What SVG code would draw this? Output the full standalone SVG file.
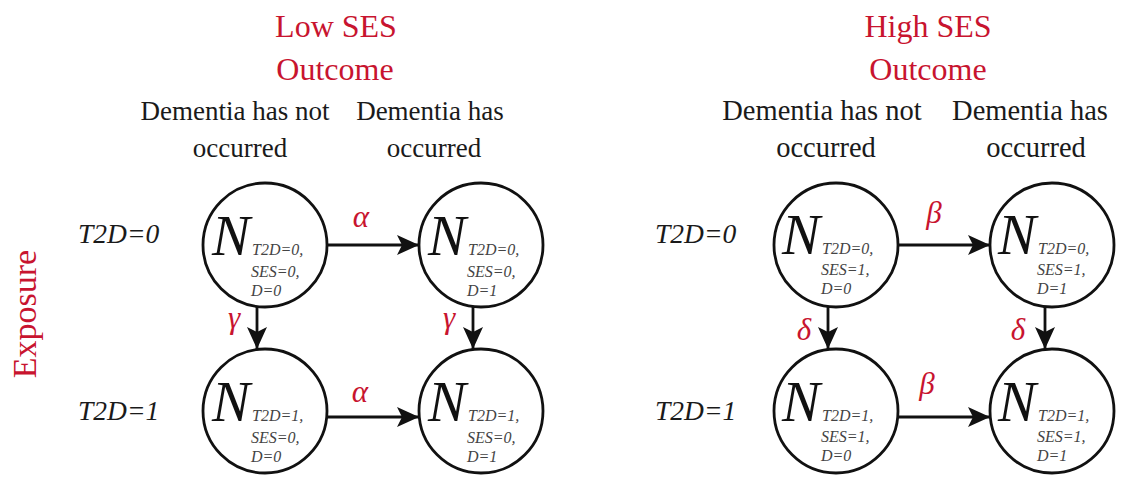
<svg xmlns="http://www.w3.org/2000/svg" width="1145" height="477" viewBox="0 0 1145 477">
<defs>
<style>
text{font-family:"Liberation Serif","Times New Roman",serif;}
.red{fill:#c8142f;}
.title{font-size:32px;text-anchor:middle;}
.head{font-size:27px;text-anchor:middle;fill:#1a1a1a;}
.headR{font-size:28.5px;text-anchor:middle;fill:#1a1a1a;}
.row{font-size:27.5px;font-style:italic;fill:#1a1a1a;}
.greek{font-size:31px;font-style:italic;text-anchor:middle;}
.N{font-size:57px;font-style:italic;fill:#111;}
.sub{font-size:16px;font-style:italic;fill:#444;}
.node circle{fill:#fff;stroke:#111;stroke-width:2.8;}
.edge{stroke:#111;stroke-width:2.8;fill:none;marker-end:url(#ah);}
</style>
<marker id="ah" markerUnits="userSpaceOnUse" markerWidth="24" markerHeight="22" refX="22" refY="10" orient="auto" viewBox="0 0 24 22">
<path d="M0,0 L22,10 L0,20 L5,10 z" fill="#111"/>
</marker>
</defs>
<rect width="1145" height="477" fill="#fff"/>

<!-- Headings -->
<g id="headings">
<text class="title red" x="336" y="37">Low SES</text>
<text class="title red" x="335" y="80">Outcome</text>
<text class="head" x="235" y="120">Dementia has not</text>
<text class="head" x="240" y="157">occurred</text>
<text class="head" x="430" y="120">Dementia has</text>
<text class="head" x="434" y="157">occurred</text>

<text class="title red" x="928" y="37">High SES</text>
<text class="title red" x="928" y="80">Outcome</text>
<text class="headR" x="822" y="120">Dementia has not</text>
<text class="headR" x="826" y="157">occurred</text>
<text class="headR" x="1030" y="120">Dementia has</text>
<text class="headR" x="1036" y="157">occurred</text>

<text class="title red" transform="translate(36,314) rotate(-90)" x="0" y="0" style="font-size:34px">Exposure</text>
<text class="row" x="78" y="243">T2D=0</text>
<text class="row" x="78" y="420">T2D=1</text>
<text class="row" x="655" y="243">T2D=0</text>
<text class="row" x="655" y="420">T2D=1</text>
</g>

<!-- Connectors -->
<g id="connectors">
<line class="edge" x1="327" y1="245" x2="419" y2="245"/>
<line class="edge" x1="327" y1="417" x2="419" y2="417"/>
<line class="edge" x1="257" y1="307" x2="257" y2="349"/>
<line class="edge" x1="473" y1="307" x2="473" y2="349"/>
<text class="greek red" x="361" y="227">α</text>
<text class="greek red" x="360" y="402">α</text>
<text class="greek red" x="234" y="328">γ</text>
<text class="greek red" x="449" y="328">γ</text>

<line class="edge" x1="898" y1="245" x2="990" y2="245"/>
<line class="edge" x1="898" y1="417" x2="990" y2="417"/>
<line class="edge" x1="828" y1="307" x2="828" y2="349"/>
<line class="edge" x1="1045" y1="307" x2="1045" y2="349"/>
<text class="greek red" x="934" y="223">β</text>
<text class="greek red" x="927" y="394">β</text>
<text class="greek red" x="804" y="340">δ</text>
<text class="greek red" x="1018" y="340">δ</text>
</g>

<!-- Nodes: Low SES -->
<g id="node-low-t0-d0" class="node">
<circle cx="265" cy="245" r="62"/>
<text class="N" x="212" y="255">N</text>
<text class="sub" x="252" y="255">T2D=0,</text>
<text class="sub" x="251" y="277">SES=0,</text>
<text class="sub" x="251" y="296">D=0</text>
</g>
<g id="node-low-t0-d1" class="node">
<circle cx="481" cy="245" r="62"/>
<text class="N" x="428" y="255">N</text>
<text class="sub" x="468" y="255">T2D=0,</text>
<text class="sub" x="467" y="277">SES=0,</text>
<text class="sub" x="467" y="296">D=1</text>
</g>
<g id="node-low-t1-d0" class="node">
<circle cx="265" cy="411" r="62"/>
<text class="N" x="212" y="421">N</text>
<text class="sub" x="252" y="421">T2D=1,</text>
<text class="sub" x="251" y="443">SES=0,</text>
<text class="sub" x="251" y="462">D=0</text>
</g>
<g id="node-low-t1-d1" class="node">
<circle cx="481" cy="411" r="62"/>
<text class="N" x="428" y="421">N</text>
<text class="sub" x="468" y="421">T2D=1,</text>
<text class="sub" x="467" y="443">SES=0,</text>
<text class="sub" x="467" y="462">D=1</text>
</g>

<!-- Nodes: High SES -->
<g id="node-high-t0-d0" class="node">
<circle cx="836" cy="245" r="62"/>
<text class="N" x="782" y="254">N</text>
<text class="sub" x="822" y="254">T2D=0,</text>
<text class="sub" x="821" y="275">SES=1,</text>
<text class="sub" x="821" y="294">D=0</text>
</g>
<g id="node-high-t0-d1" class="node">
<circle cx="1052" cy="245" r="62"/>
<text class="N" x="998" y="254">N</text>
<text class="sub" x="1038" y="254">T2D=0,</text>
<text class="sub" x="1037" y="275">SES=1,</text>
<text class="sub" x="1037" y="294">D=1</text>
</g>
<g id="node-high-t1-d0" class="node">
<circle cx="836" cy="411" r="62"/>
<text class="N" x="782" y="421">N</text>
<text class="sub" x="822" y="421">T2D=1,</text>
<text class="sub" x="821" y="442">SES=1,</text>
<text class="sub" x="821" y="461">D=0</text>
</g>
<g id="node-high-t1-d1" class="node">
<circle cx="1052" cy="411" r="62"/>
<text class="N" x="998" y="421">N</text>
<text class="sub" x="1038" y="421">T2D=1,</text>
<text class="sub" x="1037" y="442">SES=1,</text>
<text class="sub" x="1037" y="461">D=1</text>
</g>
</svg>
